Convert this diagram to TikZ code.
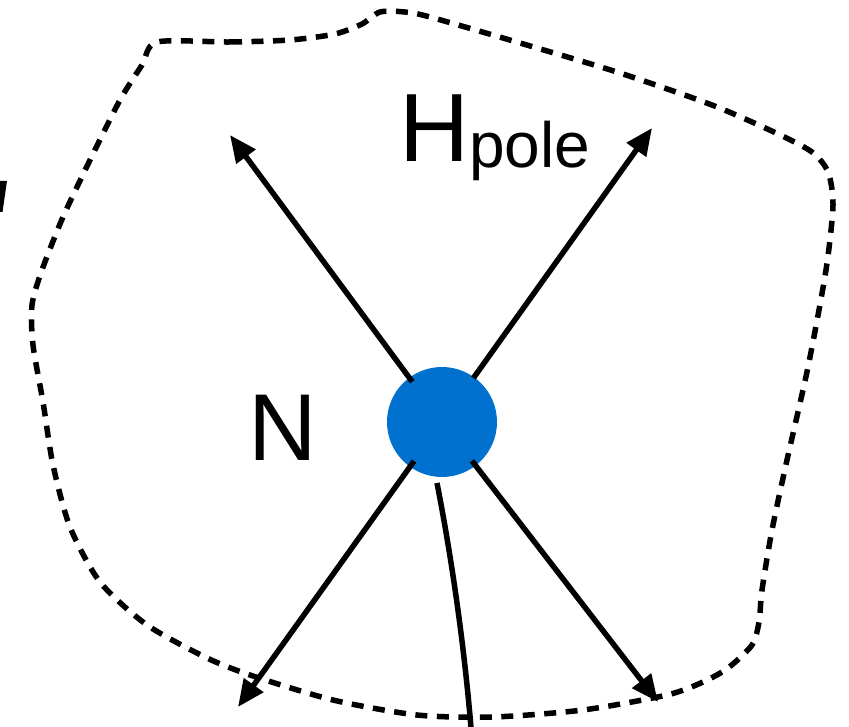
\documentclass[tikz,border=0pt]{standalone}
\usepackage{fontspec}
\setmainfont{Liberation Sans}
\usetikzlibrary{arrows.meta,calc}
\definecolor{dotblue}{RGB}{0,113,206}
\tikzset{
  arr/.style={line width=5.5pt,-{Triangle[length=27pt,width=23pt]}},
  plain/.style={line width=5.5pt},
  boundary/.style={line width=5.5pt,dash pattern=on 12pt off 9.5pt},
  lbl/.style={inner sep=0pt,anchor=base west}
}
\begin{document}
\begin{tikzpicture}[x=1pt,y=-1pt]
\useasboundingbox (0,0) rectangle (849,727);
% dashed boundary
\draw[boundary] plot[smooth cycle,tension=0.45] coordinates {
 (157,42) (230,42) (290,40) (335,34) (362,24) (380,12) (405,12) (430,17)
 (520,43) (620,73) (712,105) (776,133) (812,152) (828,172) (833,205)
 (826,270) (808,367) (787,460) (772,530) (762,590) (759,622) (752,645)
 (728,668) (703,682) (667,695) (583,710) (493,717) (417,715) (333,700)
 (253,676) (207,658) (147,625) (100,582) (70,527) (53,465) (43,402)
 (33,345) (32,305) (42,270) (63,217) (91,158) (120,100) (142,65)};
% partial glyph at the left edge
\fill (0,181) -- (7,181) -- (2.5,212) -- (0,212) -- cycle;
% centre dot
\node[circle,fill=dotblue,minimum size=110pt,inner sep=0pt] (c) at (442,422) {};
% tips
\coordinate (t1) at (230,135);
\coordinate (t2) at (652,128);
\coordinate (t3) at (238,707);
\coordinate (t4) at (658,702);
\coordinate (m0) at (437,483);
\coordinate (m1) at (472,740);
\draw[arr] ($(c.center)!50pt!(t1)$) -- (t1);
\draw[arr] ($(c.center)!54pt!(t2)$) -- (t2);
\draw[arr] ($(c.center)!48pt!(t3)$) -- (t3);
\draw[arr] ($(c.center)!49pt!(t4)$) -- (t4);
\draw[plain] (m0) .. controls (452,560) and (465,650) .. (m1);
% labels
\node[lbl,font=\fontsize{97}{100}\selectfont] (H) at (399,162) {H};
\node[lbl,font=\fontsize{64}{66}\selectfont] (pole) at (469,168) {pole};
\node[lbl,font=\fontsize{95}{98}\selectfont] (N) at (248,460) {N};
\end{tikzpicture}
\end{document}
